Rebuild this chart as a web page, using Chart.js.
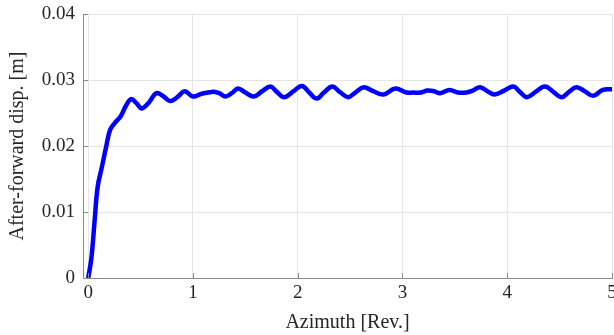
<!DOCTYPE html>
<html>
<head>
<meta charset="utf-8">
<script src="https://cdn.jsdelivr.net/npm/chart.js@4.4.1/dist/chart.umd.min.js"></script>
<style>
html,body{margin:0;padding:0;background:#fff;}
#wrap{width:614px;height:335px;}
</style>
</head>
<body>
<div id="wrap"><canvas id="c" width="614" height="335"></canvas></div>
<script>
const azimuth = [0, 0.03, 0.06, 0.09, 0.13, 0.17, 0.21, 0.26, 0.31, 0.36, 0.41, 0.46, 0.51, 0.58, 0.65, 0.72, 0.78, 0.85, 0.92, 1.0,
  1.08, 1.18, 1.25, 1.31, 1.37, 1.43, 1.5, 1.58, 1.66, 1.74, 1.8, 1.87, 1.96, 2.04, 2.11, 2.18, 2.25, 2.33, 2.4, 2.48,
  2.55, 2.63, 2.72, 2.82, 2.93, 3.04, 3.1, 3.17, 3.24, 3.3, 3.36, 3.45, 3.53, 3.61, 3.67, 3.74, 3.81, 3.88, 3.97, 4.06,
  4.12, 4.19, 4.27, 4.36, 4.44, 4.52, 4.59, 4.66, 4.74, 4.82, 4.9, 4.95, 5.0];
const displacement = [0, 0.003, 0.0085, 0.0138, 0.0168, 0.0198, 0.0225, 0.0236, 0.0245, 0.0261, 0.0271, 0.0265, 0.0257, 0.0266, 0.0280, 0.0275, 0.0268, 0.0274, 0.0283, 0.0275,
  0.0279, 0.0282, 0.0280, 0.0275, 0.0280, 0.0287, 0.0281, 0.0275, 0.0283, 0.0290, 0.0282, 0.0274, 0.0283, 0.0291, 0.0281, 0.0272, 0.0281, 0.0290, 0.0282, 0.0274,
  0.0281, 0.0289, 0.0283, 0.0278, 0.0287, 0.0281, 0.0281, 0.0281, 0.0284, 0.0283, 0.0280, 0.0285, 0.0281, 0.0281, 0.0284, 0.0289, 0.0283, 0.0278, 0.0284, 0.0290,
  0.0282, 0.0274, 0.0282, 0.0290, 0.0282, 0.0274, 0.0282, 0.0289, 0.0283, 0.0276, 0.0284, 0.0286, 0.0286];
const xTicks = [0, 1, 2, 3, 4, 5];
const yTicks = [0, 0.01, 0.02, 0.03, 0.04];
const xTitle = 'Azimuth [Rev.]';
const yTitle = 'After-forward disp. [m]';

const font = {family: '"Liberation Serif", "Times New Roman", serif', size: 19};
const titleFont = {family: '"Liberation Serif", "Times New Roman", serif', size: 20};
const textColor = '#262626';

const innerTicks = {
  id: 'innerTicks',
  afterDatasetsDraw(chart) {
    const {ctx, chartArea: a, scales: {x, y}} = chart;
    ctx.save();
    ctx.strokeStyle = '#8a8a8a';
    ctx.lineWidth = 1;
    ctx.beginPath();
    xTicks.forEach(v => { const px = Math.round(x.getPixelForValue(v)) + 0.5; ctx.moveTo(px, a.bottom); ctx.lineTo(px, a.bottom - 5); });
    yTicks.forEach(v => { const py = Math.round(y.getPixelForValue(v)) + 0.5; ctx.moveTo(a.left, py); ctx.lineTo(a.left + 5, py); });
    ctx.stroke();
    ctx.restore();
  }
};

new Chart(document.getElementById('c'), {
  type: 'line',
  data: {
    datasets: [{
      data: azimuth.map((v, i) => ({x: v, y: displacement[i]})),
      borderColor: '#0000ff',
      borderWidth: 4.5,
      pointRadius: 0,
      tension: 0.4,
      fill: false
    }]
  },
  options: {
    responsive: false,
    animation: false,
    devicePixelRatio: 1,
    layout: {padding: {top: 14, right: 2, left: 0, bottom: 0}},
    plugins: {legend: {display: false}, tooltip: {enabled: false}},
    scales: {
      x: {
        type: 'linear',
        min: -0.05,
        max: 5,
        afterBuildTicks(s) { s.ticks = xTicks.map(v => ({value: v})); },
        afterFit(s) { s.height = 57; s.paddingLeft = 0; s.paddingRight = 0; },
        ticks: {font, color: textColor, padding: 4, maxRotation: 0, autoSkip: false},
        grid: {color: '#e6e6e6', drawTicks: false},
        border: {color: '#8a8a8a', width: 1},
        title: {display: true, text: xTitle, font: titleFont, color: textColor, padding: {top: 0, bottom: 0}}
      },
      y: {
        type: 'linear',
        min: 0,
        max: 0.04,
        afterBuildTicks(s) { s.ticks = yTicks.map(v => ({value: v})); },
        afterFit(s) { s.width = 83; s.paddingTop = 0; s.paddingBottom = 0; },
        ticks: {font, color: textColor, padding: 8, callback: v => v === 0 ? '0' : v.toFixed(2)},
        grid: {color: '#e6e6e6', drawTicks: false},
        border: {color: '#8a8a8a', width: 1},
        title: {display: true, text: yTitle, font: titleFont, color: textColor, padding: {top: 6, bottom: 0}}
      }
    }
  },
  plugins: [innerTicks]
});
</script>
</body>
</html>
